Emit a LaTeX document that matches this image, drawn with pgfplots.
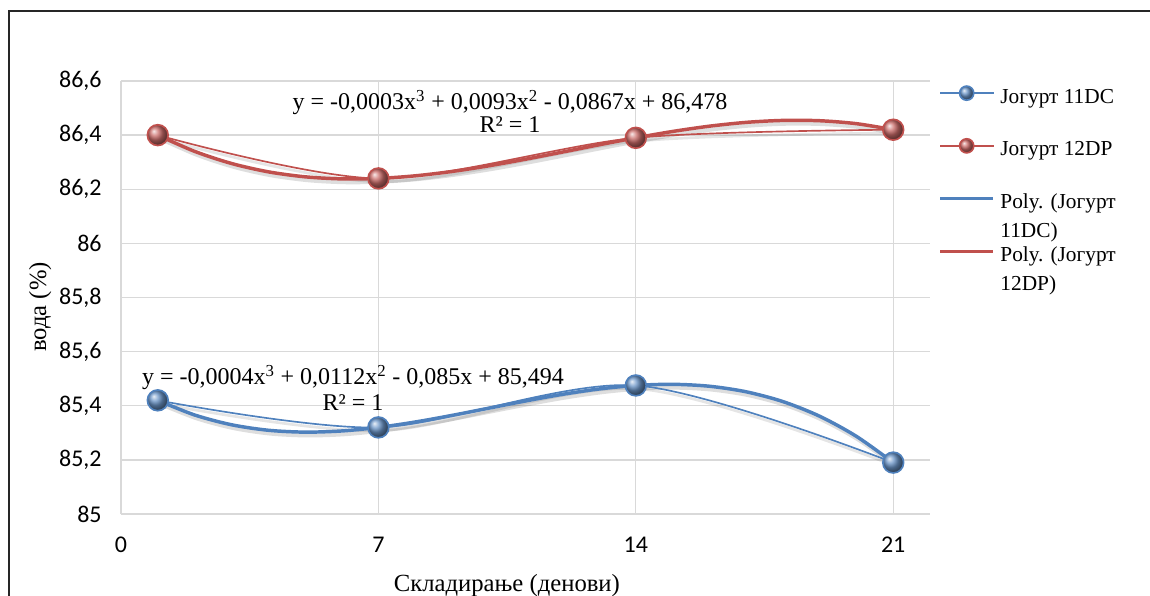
\documentclass[border=0pt]{standalone}
\usepackage{pgfplots}
\pgfplotsset{compat=1.18}
\usepackage{pgfplotstable}
\usepackage{fontspec}
\setmainfont{Liberation Serif}
\newfontfamily\tickfont{Carlito}
\definecolor{xlblue}{HTML}{4F81BD}
\definecolor{xlred}{HTML}{C0504D}
\definecolor{gridgray}{HTML}{D9D9D9}

\pgfplotstableread{
x y
1 85.42
7 85.32
14 85.475
21 85.19
}\bluedata
\pgfplotstableread{
x y
1 86.40
7 86.24
14 86.39
21 86.42
}\reddata
\pgfplotstableread{
x y
1 85.4200
2 85.3660
3 85.3299
4 85.3095
5 85.3025
6 85.3068
7 85.3200
8 85.3399
9 85.3643
10 85.3910
11 85.4176
12 85.4420
13 85.4619
14 85.4750
15 85.4792
16 85.4721
17 85.4516
18 85.4154
19 85.3612
20 85.2868
21 85.1900
}\bluetrend
\pgfplotstableread{
x y
1 86.4000
2 86.3401
3 86.2954
4 86.2645
5 86.2460
6 86.2383
7 86.2400
8 86.2496
9 86.2656
10 86.2865
11 86.3109
12 86.3372
13 86.3641
14 86.3900
15 86.4135
16 86.4330
17 86.4471
18 86.4543
19 86.4532
20 86.4423
21 86.4200
}\redtrend

\begin{document}
\begin{tikzpicture}
\useasboundingbox (0pt,0pt) rectangle (862.5pt,447pt);
\draw[line width=1.5pt, black!85] (6.75pt,0pt) -- (6.75pt,438.75pt) -- (862.5pt,438.75pt);
\begin{axis}[
  at={(90.75pt,61.5pt)}, anchor=south west,
  width=606.75pt, height=324.75pt, scale only axis,
  xmin=0, xmax=22, ymin=85, ymax=86.6,
  xtick={0,7,14,21},
  ytick={85,85.2,85.4,85.6,85.8,86,86.2,86.4,86.6},
  grid=major, major grid style={gridgray, line width=1pt},
  axis line style={draw=none}, major tick length=0pt,
  tick label style={font=\tickfont\fontsize{18}{21}\selectfont},
  /pgf/number format/use comma,
  /pgf/number format/assume math mode=true,
  yticklabel style={xshift=-11pt},
  xticklabel style={yshift=-14pt},
  clip=false,
  xlabel={Складирање (денови)},
  xlabel style={at={(axis description cs:0.477,-0.180)}, anchor=base, font=\fontsize{18.5}{22}\selectfont},
  ylabel={вода (\%)},
  ylabel style={at={(axis description cs:-0.100,0.478)}, anchor=center, font=\fontsize{18.5}{22}\selectfont},
  legend style={draw=none, fill=none, inner sep=0pt, at={(axis description cs:1.0099,0.996)}, anchor=north west,
    font=\fontsize{16}{21.75}\selectfont, row sep=24.3pt, column sep=4pt,
    nodes={inner sep=0pt, text depth=0pt}},
  legend cell align=left,
  legend image code/.code={\draw[mark repeat=2,mark phase=2,#1] plot coordinates {(0pt,0pt) (20pt,0pt) (40pt,0pt)};},
  legend image post style={mark size=5.3pt},
]
% shadows
\addplot[forget plot, smooth, black, opacity=0.13, line width=3pt, xshift=1.5pt, yshift=-2.5pt] table {\bluetrend};
\addplot[forget plot, smooth, black, opacity=0.13, line width=3pt, xshift=1.5pt, yshift=-2.5pt] table {\redtrend};
\addplot[forget plot, smooth, black, opacity=0.10, line width=2pt, xshift=1.5pt, yshift=-2.5pt] table {\bluedata};
\addplot[forget plot, smooth, black, opacity=0.10, line width=2pt, xshift=1.5pt, yshift=-2.5pt] table {\reddata};
% trend lines
\addplot[forget plot, smooth, xlblue, line width=2.6pt] table {\bluetrend};
\addplot[forget plot, smooth, xlred, line width=2.6pt] table {\redtrend};
% data series
\addplot[smooth, xlblue, line width=1.25pt, mark=ball, mark size=7.8pt, mark options={ball color=xlblue!85!white}] table {\bluedata};
\addplot[smooth, xlred, line width=1.25pt, mark=ball, mark size=7.8pt, mark options={ball color=xlred!85!white}] table {\reddata};
\addlegendimage{xlblue, line width=2.6pt}
\addlegendimage{xlred, line width=2.6pt}
\legend{\strut Јогурт 11DC,\strut Јогурт 12DP,
  \strut\smash{\begin{tabular}[t]{@{}l@{}}Poly. (Јогурт\\11DC)\end{tabular}},
  \strut\smash{\begin{tabular}[t]{@{}l@{}}Poly. (Јогурт\\12DP)\end{tabular}}}
% equations
\node[anchor=base, font=\fontsize{18}{21}\selectfont] at (axis cs:10.58,86.493) {y = -0,0003x\textsuperscript{3} + 0,0093x\textsuperscript{2} - 0,0867x + 86,478};
\node[anchor=base, font=\fontsize{18}{21}\selectfont] at (axis cs:10.58,86.408) {R² = 1};
\node[anchor=base, font=\fontsize{18}{21}\selectfont] at (axis cs:6.31,85.477) {y = -0,0004x\textsuperscript{3} + 0,0112x\textsuperscript{2} - 0,085x + 85,494};
\node[anchor=base, font=\fontsize{18}{21}\selectfont] at (axis cs:6.31,85.384) {R² = 1};
\end{axis}
\end{tikzpicture}
\end{document}
